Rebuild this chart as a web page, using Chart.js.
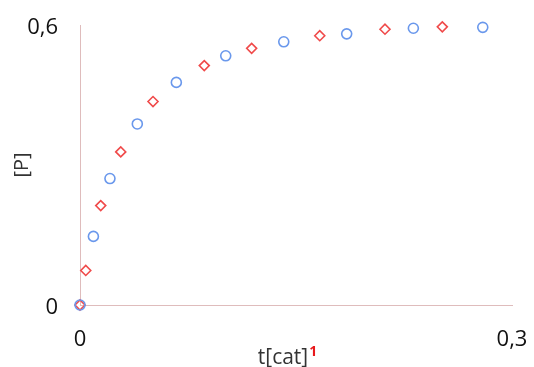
<!DOCTYPE html>
<html>
<head>
<meta charset="utf-8">
<script src="https://cdn.jsdelivr.net/npm/chart.js@4/dist/chart.umd.min.js"></script>
<style>
  body { margin: 0; background: #fff; }
  canvas { display: block; }
</style>
</head>
<body>
<canvas id="myChart" width="534" height="367"></canvas>
<script>
// values
const blue_t = [0, 0.0093, 0.0208, 0.0398, 0.0669, 0.1012, 0.1415, 0.1852, 0.2315, 0.2797]
const blue_p = [0, 0.147, 0.271, 0.388, 0.477, 0.534, 0.564, 0.581, 0.593, 0.595]
const red_t = [0, 0.004, 0.0144, 0.0283, 0.0507, 0.0863, 0.1192, 0.1665, 0.2118, 0.2516]
const red_p = [0, 0.074, 0.213, 0.328, 0.436, 0.513, 0.550, 0.577, 0.591, 0.596]
const x_ticks = [0, 0.3]
const y_ticks = [0, 0.6]
const x_title = 't[cat]'
const x_title_sup = '1'
const y_title = '[P]'

const FONT = "'Open Sans', 'DejaVu Sans', sans-serif"

function to_points(xs, ys){
    return xs.map((x, i) => { return {x: x, y: ys[i]} })
}

function comma(v){
    return String(v).replace('.', ',')
}

// x title with a red superscript
const xTitlePlugin = {
    id: 'xTitle',
    afterDraw(chart){
        const ctx = chart.ctx
        const area = chart.chartArea
        ctx.save()
        ctx.font = '21px ' + FONT
        ctx.textBaseline = 'alphabetic'
        ctx.fillStyle = '#333'
        const w = ctx.measureText(x_title).width
        ctx.font = 'bold 14px ' + FONT
        const ws = ctx.measureText(x_title_sup).width
        const start = (area.left + area.right) / 2 - 9 - (w + ws) / 2
        const base = area.bottom + 59
        ctx.font = '21px ' + FONT
        ctx.fillText(x_title, start, base)
        ctx.font = 'bold 14px ' + FONT
        ctx.fillStyle = '#e8191c'
        ctx.fillText(x_title_sup, start + w + 1, base - 8)
        ctx.restore()
    }
}

const axisColor = '#dfbcbc'

const config = {
    type: 'scatter',
    data: {
        datasets: [
            {
                data: to_points(blue_t, blue_p),
                pointStyle: 'circle',
                pointRadius: 5,
                pointBorderWidth: 1.6,
                borderColor: '#6a98ec',
                backgroundColor: 'rgba(0,0,0,0)',
                clip: false
            },
            {
                data: to_points(red_t, red_p),
                pointStyle: 'rectRot',
                pointRadius: 5,
                pointBorderWidth: 1.6,
                borderColor: '#f04a4a',
                backgroundColor: 'rgba(0,0,0,0)',
                clip: false
            }
        ]
    },
    options: {
        responsive: false,
        animation: false,
        layout: { padding: { left: 0, right: 22, top: 25, bottom: 0 } },
        plugins: {
            legend: { display: false },
            tooltip: { enabled: false }
        },
        scales: {
            x: {
                type: 'linear',
                min: 0,
                max: 0.3,
                afterBuildTicks: (scale) => { scale.ticks = x_ticks.map(v => ({value: v})) },
                afterFit: (scale) => {
                    scale.height = 62
                    scale.paddingLeft = 0
                    scale.paddingRight = 0
                },
                grid: { display: false, drawTicks: false },
                border: { display: true, color: axisColor, width: 1 },
                ticks: {
                    padding: 22,
                    color: '#111',
                    font: { family: FONT, size: 22 },
                    maxRotation: 0,
                    callback: (v) => comma(v)
                }
            },
            y: {
                type: 'linear',
                min: 0,
                max: 0.6,
                afterBuildTicks: (scale) => { scale.ticks = y_ticks.map(v => ({value: v})) },
                afterFit: (scale) => {
                    scale.width = 80
                    scale.paddingTop = 0
                    scale.paddingBottom = 0
                },
                grid: { display: false, drawTicks: false },
                border: { display: true, color: axisColor, width: 1 },
                title: {
                    display: true,
                    text: y_title,
                    color: '#333',
                    font: { family: FONT, size: 20 },
                    padding: { top: 10, bottom: 0 }
                },
                ticks: {
                    padding: 22,
                    labelOffset: 3,
                    color: '#111',
                    font: { family: FONT, size: 22 },
                    callback: (v) => comma(v)
                }
            }
        }
    },
    plugins: [xTitlePlugin]
}

const chart = new Chart(document.getElementById('myChart'), config)
</script>
</body>
</html>
